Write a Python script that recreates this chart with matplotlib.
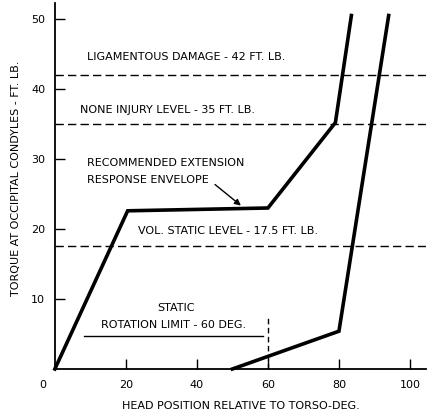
import matplotlib.pyplot as plt
import matplotlib.transforms as mtransforms

plt.rcParams['font.family'] = ['Liberation Sans Narrow', 'DejaVu Sans']

# Recommended extension response envelope (head angle in deg, torque in ft-lb)
envelope_x = [0, 20.5, 60, 79, 83.5]
envelope_y = [0, 22.6, 23, 35.2, 50.5]

# Second boundary curve
outer_x = [50, 80, 94]
outer_y = [0, 5.4, 50.5]

# Horizontal reference levels
levels = [42, 35, 17.5]
level_labels = ['LIGAMENTOUS DAMAGE - 42 FT. LB.',
                'NONE INJURY LEVEL - 35 FT. LB.',
                'VOL. STATIC LEVEL - 17.5 FT. LB.']
label_pos = [(9, 44.6), (7, 37.0), (23.4, 19.7)]

static_limit = 60
x_ticks = [0, 20, 40, 60, 80, 100]
y_ticks = [10, 20, 30, 40, 50]

fig = plt.figure(figsize=(4.32, 4.16), dpi=100)
ax = fig.add_axes([0.127, 0.113, 0.859, 0.88])
ax.set_xlim(0, 104.5)
ax.set_ylim(0, 52.3)

for s in ['top', 'right']:
    ax.spines[s].set_visible(False)
for s in ['left', 'bottom']:
    ax.spines[s].set_linewidth(1.3)

ax.plot(envelope_x, envelope_y, color='black', lw=2.6, solid_joinstyle='miter', clip_on=False)
ax.plot(outer_x, outer_y, color='black', lw=2.6, solid_joinstyle='miter', clip_on=False)

for lv, txt, (tx, ty) in zip(levels, level_labels, label_pos):
    ax.axhline(lv, color='black', lw=1.0, ls=(0, (6, 3)))
    ax.text(tx, ty, txt, fontsize=8, va='center', ha='left')

ax.text(9, 29.4, 'RECOMMENDED EXTENSION', fontsize=8, va='center', ha='left')
ax.text(9, 27.0, 'RESPONSE ENVELOPE', fontsize=8, va='center', ha='left')
ax.annotate('', xy=(53, 23.1), xytext=(44.5, 26.6),
            arrowprops=dict(arrowstyle='-|>', color='black', lw=1.0,
                            mutation_scale=9))

# static rotation limit marker
ax.plot([static_limit, static_limit], [0, 7.7], color='black', lw=1.0, ls=(0, (4, 2.5)))
ax.plot([8.2, 58.6], [4.7, 4.7], color='black', lw=1.0)
ax.text(34, 8.7, 'STATIC', fontsize=8, va='center', ha='center')
ax.text(33.5, 6.3, 'ROTATION LIMIT - 60 DEG.', fontsize=8, va='center', ha='center')

ax.set_xticks(x_ticks)
ax.set_yticks(y_ticks)
ax.tick_params(direction='in', length=7, width=1.0, labelsize=8, pad=7)
ax.tick_params(axis='x', pad=8)
ax.xaxis.get_major_ticks()[0].tick1line.set_visible(False)

# the origin label sits a little left of the corner
zero_lbl = ax.get_xticklabels()[0]
zero_lbl.set_transform(zero_lbl.get_transform() +
                       mtransforms.ScaledTranslation(-0.12, 0, fig.dpi_scale_trans))

ax.set_xlabel('HEAD POSITION RELATIVE TO TORSO-DEG.', fontsize=8, labelpad=8)
ax.set_ylabel('TORQUE AT OCCIPITAL CONDYLES - FT. LB.', fontsize=8, labelpad=4)
ax.yaxis.set_label_coords(-0.09, 0.52)

fig.savefig('out.png', dpi=100)
